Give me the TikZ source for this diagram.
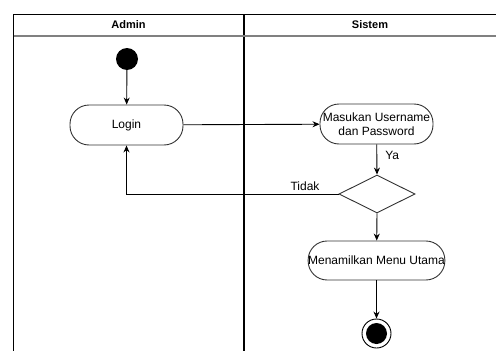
\documentclass[tikz,border=0pt]{standalone}
\usepackage{fontspec}
\setmainfont{Liberation Sans}
\usetikzlibrary{shapes.geometric,arrows.meta}
\begin{document}
\begin{tikzpicture}[x=1pt,y=-1pt,
  act/.style={draw=black!80,line width=0.9pt,rounded corners=19pt,minimum height=40pt,inner sep=0pt,font=\fontsize{12}{14}\selectfont,align=center},
  arr/.style={draw=black,line width=0.9pt,-{Stealth[length=7pt,width=6pt]}},
  lbl/.style={font=\fontsize{12}{14}\selectfont,inner sep=0pt},
  hdr/.style={font=\bfseries\fontsize{11}{13}\selectfont,inner sep=0pt}]
\useasboundingbox (0,0) rectangle (496,351);
% swimlanes
\draw[line width=1pt] (13.5,360) -- (13.5,14) -- (500,14);
\draw[line width=1.3pt] (244,14) -- (244,360);
\draw[gray,line width=1.2pt] (13.5,36) -- (500,36);
\node[hdr] (hA) at (128.5,25) {Admin};
\node[hdr] (hS) at (370,25) {Sistem};
% nodes
\node[circle,fill=black,minimum size=22pt,inner sep=0pt] (start) at (127,59) {};
\node[act,minimum width=113pt] (login) at (126.5,125) {Login};
\node[act,minimum width=113pt] (masuk) at (376.5,124) {Masukan Username\\dan Password};
\node[diamond,draw=black!80,line width=0.9pt,minimum width=76pt,minimum height=38pt,inner sep=0pt,aspect=2] (dec) at (377,194) {};
\node[act,minimum width=131pt,minimum height=39pt] (menu) at (376.5,260.5) {Menamilkan Menu Utama};
\node[circle,draw=black,line width=0.9pt,minimum size=29pt,inner sep=0pt] (end) at (376.5,333.5) {};
\node[circle,fill=black,minimum size=21pt,inner sep=0pt] (endin) at (end.center) {};
% edges
\draw[arr] (start) -- (login);
\draw[arr] (login) -- (masuk);
\draw[arr] (masuk) -- (dec.north) node[lbl,pos=0.35,right=8pt] (ya) {Ya};
\draw[arr] (dec.west) -- (login.south |- dec.west) -- (login.south);
\node[lbl] (tidak) at (305,186) {Tidak};
\draw[arr] (dec.south) -- (menu);
\draw[arr] (menu) -- (end);
\end{tikzpicture}
\end{document}
